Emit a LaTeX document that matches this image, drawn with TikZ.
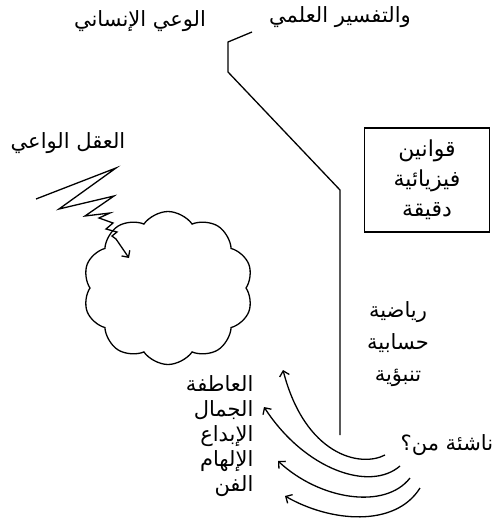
\documentclass[tikz,border=0pt]{standalone}
\usepackage{fontspec}
\newfontfamily\arabicfont[Script=Arabic]{DejaVu Sans}
\TeXXeTstate=1
\usetikzlibrary{shapes.symbols, positioning, arrows.meta}
\newcommand{\artext}[1]{\beginR #1\endR}
\tikzset{every node/.style={node distance=2pt}}

\begin{document}
\begin{tikzpicture}[x=1pt, y=-1pt, line width=1.3pt,
    >={Straight Barb[length=5pt, width=10pt]},
    word/.style={font=\arabicfont\fontsize{21}{25}\selectfont, inner sep=0pt},
    lawbox/.style={draw, font=\arabicfont\fontsize{22}{30}\selectfont, align=center,
      minimum width=125pt, minimum height=104pt, inner sep=0pt}]
    \useasboundingbox (0,0) rectangle (495,532);

    % Labels
    \node[word] (aware) at (140,21) {\artext{الوعي الإنساني}};
    \node[word] (science) at (340,17) {\artext{والتفسير العلمي}};
    \node[word] (mind) at (68,143) {\artext{العقل الواعي}};
    \node[lawbox] (laws) at (427,180) {\artext{قوانين}\\\artext{فيزيائية}\\\artext{دقيقة}};
    \node[word, align=center, font=\arabicfont\fontsize{21}{32}\selectfont] (math) at (398,344)
      {\artext{رياضية}\\\artext{حسابية}\\\artext{تنبؤية}};
    \node[word, anchor=west] (origin) at (400,445) {\artext{ناشئة من؟}};
    \node[word, align=right, anchor=east] (arts) at (254,436)
      {\artext{العاطفة}\\\artext{الجمال}\\\artext{الإبداع}\\\artext{الإلهام}\\\artext{الفن}};

    % Cloud
    \node[cloud, draw, cloud puffs=10, cloud puff arc=110, aspect=1.1,
      minimum width=170pt, minimum height=153pt] (cloud) at (168,288) {};

    % Zigzag into the cloud
    \coordinate (z0) at (36,199);
    \coordinate (zend) at (129,258);
    \draw[->] (z0) -- (116,168) -- (59,209) -- (114,196) -- (85,216) -- (110,213)
      -- (99,218) -- (113,223) -- (106,229) -- (117,232) -- (112,236) -- (116,239) -- (zend);

    % Line of science
    \coordinate (s0) at (252,32);
    \coordinate (s1) at (340,435);
    \draw (s0) -- (228,42) -- (228,72) -- (340,190) -- (s1);

    % Arrows from origin
    \coordinate (t1) at (385,455); \coordinate (h1) at (283,370);
    \coordinate (t2) at (400,466); \coordinate (h2) at (264,407);
    \coordinate (t3) at (410,478); \coordinate (h3) at (278,461);
    \coordinate (t4) at (420,488); \coordinate (h4) at (285,496);
    \draw[->] (t1) .. controls (360,468) and (305,455) .. (h1);
    \draw[->] (t2) .. controls (370,492) and (305,470) .. (h2);
    \draw[->] (t3) .. controls (385,510) and (320,500) .. (h3);
    \draw[->] (t4) .. controls (395,528) and (330,522) .. (h4);

\end{tikzpicture}
\end{document}
